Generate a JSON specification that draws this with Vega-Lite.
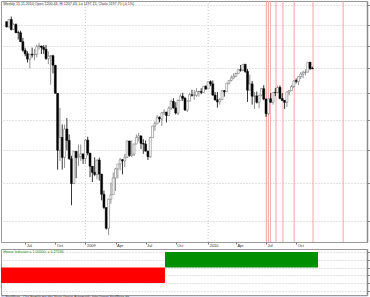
{
  "$schema": "https://vega.github.io/schema/vega-lite/v6.json",
  "padding": 0,
  "background": "white",
  "spacing": 0,
  "config": {
    "view": {"stroke": "#999", "strokeWidth": 1},
    "font": "Liberation Sans"
  },
  "datasets": {
    "candles": [
      {"d":"2008-05-05","o":1413.9,"h":1416,"l":1386,"c":1388.3},
      {"d":"2008-05-12","o":1388,"h":1426,"l":1386,"c":1425.4},
      {"d":"2008-05-19","o":1425,"h":1440,"l":1371,"c":1375.9},
      {"d":"2008-05-26","o":1376,"h":1406,"l":1374,"c":1400.4},
      {"d":"2008-06-02","o":1400,"h":1406,"l":1358,"c":1360.7},
      {"d":"2008-06-09","o":1361,"h":1370,"l":1328,"c":1360.0},
      {"d":"2008-06-16","o":1360,"h":1370,"l":1317,"c":1317.9},
      {"d":"2008-06-23","o":1318,"h":1336,"l":1272,"c":1278.4},
      {"d":"2008-06-30","o":1278,"h":1290,"l":1252,"c":1262.9},
      {"d":"2008-07-07","o":1263,"h":1274,"l":1225,"c":1239.5},
      {"d":"2008-07-14","o":1239,"h":1263,"l":1200,"c":1260.7},
      {"d":"2008-07-21","o":1261,"h":1291,"l":1246,"c":1257.8},
      {"d":"2008-07-28","o":1258,"h":1285,"l":1235,"c":1260.3},
      {"d":"2008-08-04","o":1260,"h":1304,"l":1247,"c":1296.3},
      {"d":"2008-08-11","o":1296,"h":1313,"l":1282,"c":1298.2},
      {"d":"2008-08-18","o":1298,"h":1300,"l":1262,"c":1292.2},
      {"d":"2008-08-25","o":1292,"h":1302,"l":1263,"c":1282.8},
      {"d":"2008-09-01","o":1283,"h":1303,"l":1236,"c":1242.3},
      {"d":"2008-09-08","o":1242,"h":1274,"l":1217,"c":1251.7},
      {"d":"2008-09-15","o":1252,"h":1256,"l":1133,"c":1255.1},
      {"d":"2008-09-22","o":1255,"h":1255,"l":1179,"c":1213.3},
      {"d":"2008-09-29","o":1213,"h":1214,"l":1098,"c":1099.2},
      {"d":"2008-10-06","o":1099,"h":1099,"l":840,"c":899.2},
      {"d":"2008-10-13","o":899,"h":1044,"l":866,"c":940.6},
      {"d":"2008-10-20","o":941,"h":985,"l":840,"c":876.8},
      {"d":"2008-10-27","o":877,"h":984,"l":845,"c":968.8},
      {"d":"2008-11-03","o":969,"h":1007,"l":899,"c":931.0},
      {"d":"2008-11-10","o":931,"h":951,"l":869,"c":873.3},
      {"d":"2008-11-17","o":873,"h":882,"l":741,"c":800.0},
      {"d":"2008-11-24","o":800,"h":896,"l":798,"c":896.2},
      {"d":"2008-12-01","o":896,"h":896,"l":815,"c":876.1},
      {"d":"2008-12-08","o":876,"h":918,"l":851,"c":879.7},
      {"d":"2008-12-15","o":880,"h":918,"l":866,"c":887.9},
      {"d":"2008-12-22","o":888,"h":888,"l":857,"c":872.8},
      {"d":"2008-12-29","o":873,"h":935,"l":857,"c":931.8},
      {"d":"2009-01-05","o":932,"h":943,"l":883,"c":890.4},
      {"d":"2009-01-12","o":890,"h":891,"l":818,"c":850.1},
      {"d":"2009-01-19","o":850,"h":850,"l":804,"c":832.0},
      {"d":"2009-01-26","o":832,"h":877,"l":821,"c":825.9},
      {"d":"2009-02-02","o":826,"h":870,"l":812,"c":868.6},
      {"d":"2009-02-09","o":869,"h":876,"l":808,"c":826.8},
      {"d":"2009-02-16","o":827,"h":827,"l":754,"c":770.1},
      {"d":"2009-02-23","o":770,"h":780,"l":731,"c":735.1},
      {"d":"2009-03-02","o":735,"h":735,"l":680,"c":683.4},
      {"d":"2009-03-09","o":683,"h":758,"l":667,"c":756.6},
      {"d":"2009-03-16","o":757,"h":803,"l":745,"c":768.5},
      {"d":"2009-03-23","o":769,"h":832,"l":769,"c":815.9},
      {"d":"2009-03-30","o":816,"h":845,"l":779,"c":842.5},
      {"d":"2009-04-06","o":842,"h":857,"l":814,"c":856.6},
      {"d":"2009-04-13","o":857,"h":876,"l":838,"c":869.6},
      {"d":"2009-04-20","o":870,"h":871,"l":826,"c":866.2},
      {"d":"2009-04-27","o":866,"h":888,"l":847,"c":877.5},
      {"d":"2009-05-04","o":877,"h":930,"l":875,"c":929.2},
      {"d":"2009-05-11","o":929,"h":930,"l":879,"c":882.9},
      {"d":"2009-05-18","o":883,"h":931,"l":878,"c":887.0},
      {"d":"2009-05-25","o":887,"h":920,"l":881,"c":919.1},
      {"d":"2009-06-01","o":919,"h":951,"l":919,"c":940.1},
      {"d":"2009-06-08","o":940,"h":956,"l":928,"c":946.2},
      {"d":"2009-06-15","o":946,"h":946,"l":903,"c":921.2},
      {"d":"2009-06-22","o":921,"h":935,"l":888,"c":918.9},
      {"d":"2009-06-29","o":919,"h":931,"l":896,"c":896.4},
      {"d":"2009-07-06","o":896,"h":898,"l":869,"c":879.1},
      {"d":"2009-07-13","o":879,"h":943,"l":875,"c":940.4},
      {"d":"2009-07-20","o":940,"h":980,"l":940,"c":979.3},
      {"d":"2009-07-27","o":979,"h":996,"l":963,"c":987.5},
      {"d":"2009-08-03","o":987,"h":1018,"l":987,"c":1010.5},
      {"d":"2009-08-10","o":1010,"h":1013,"l":992,"c":1004.1},
      {"d":"2009-08-17","o":1004,"h":1028,"l":979,"c":1026.1},
      {"d":"2009-08-24","o":1026,"h":1039,"l":1018,"c":1028.9},
      {"d":"2009-08-31","o":1029,"h":1029,"l":992,"c":1016.4},
      {"d":"2009-09-07","o":1016,"h":1049,"l":1016,"c":1042.7},
      {"d":"2009-09-14","o":1043,"h":1074,"l":1036,"c":1068.3},
      {"d":"2009-09-21","o":1068,"h":1080,"l":1041,"c":1044.4},
      {"d":"2009-09-28","o":1044,"h":1065,"l":1020,"c":1025.2},
      {"d":"2009-10-05","o":1025,"h":1075,"l":1018,"c":1071.5},
      {"d":"2009-10-12","o":1071,"h":1097,"l":1071,"c":1087.7},
      {"d":"2009-10-19","o":1088,"h":1101,"l":1070,"c":1079.6},
      {"d":"2009-10-26","o":1080,"h":1085,"l":1033,"c":1036.2},
      {"d":"2009-11-02","o":1036,"h":1072,"l":1029,"c":1069.3},
      {"d":"2009-11-09","o":1069,"h":1100,"l":1069,"c":1093.5},
      {"d":"2009-11-16","o":1093,"h":1113,"l":1086,"c":1091.4},
      {"d":"2009-11-23","o":1091,"h":1112,"l":1074,"c":1091.5},
      {"d":"2009-11-30","o":1091,"h":1119,"l":1085,"c":1106.0},
      {"d":"2009-12-07","o":1106,"h":1108,"l":1086,"c":1106.4},
      {"d":"2009-12-14","o":1106,"h":1119,"l":1095,"c":1102.5},
      {"d":"2009-12-21","o":1102,"h":1128,"l":1102,"c":1126.5},
      {"d":"2009-12-28","o":1126,"h":1131,"l":1115,"c":1115.1},
      {"d":"2010-01-04","o":1116,"h":1145,"l":1116,"c":1145.0},
      {"d":"2010-01-11","o":1145,"h":1150,"l":1127,"c":1136.0},
      {"d":"2010-01-18","o":1136,"h":1150,"l":1090,"c":1091.8},
      {"d":"2010-01-25","o":1092,"h":1104,"l":1071,"c":1073.9},
      {"d":"2010-02-01","o":1074,"h":1104,"l":1045,"c":1066.2},
      {"d":"2010-02-08","o":1066,"h":1080,"l":1056,"c":1075.5},
      {"d":"2010-02-15","o":1075,"h":1112,"l":1075,"c":1109.2},
      {"d":"2010-02-22","o":1109,"h":1112,"l":1086,"c":1104.5},
      {"d":"2010-03-01","o":1105,"h":1139,"l":1105,"c":1138.7},
      {"d":"2010-03-08","o":1139,"h":1150,"l":1134,"c":1150.0},
      {"d":"2010-03-15","o":1150,"h":1170,"l":1146,"c":1159.9},
      {"d":"2010-03-22","o":1160,"h":1180,"l":1157,"c":1166.6},
      {"d":"2010-03-29","o":1167,"h":1182,"l":1163,"c":1178.1},
      {"d":"2010-04-05","o":1178,"h":1195,"l":1176,"c":1194.4},
      {"d":"2010-04-12","o":1194,"h":1214,"l":1186,"c":1192.1},
      {"d":"2010-04-19","o":1192,"h":1218,"l":1188,"c":1217.3},
      {"d":"2010-04-26","o":1217,"h":1219,"l":1181,"c":1186.7},
      {"d":"2010-05-03","o":1187,"h":1197,"l":1066,"c":1110.9},
      {"d":"2010-05-10","o":1111,"h":1174,"l":1111,"c":1135.7},
      {"d":"2010-05-17","o":1136,"h":1148,"l":1056,"c":1087.7},
      {"d":"2010-05-24","o":1088,"h":1104,"l":1040,"c":1089.4},
      {"d":"2010-05-31","o":1089,"h":1106,"l":1060,"c":1064.9},
      {"d":"2010-06-07","o":1065,"h":1092,"l":1042,"c":1091.6},
      {"d":"2010-06-14","o":1092,"h":1120,"l":1087,"c":1117.5},
      {"d":"2010-06-21","o":1117,"h":1131,"l":1072,"c":1076.8},
      {"d":"2010-06-28","o":1077,"h":1078,"l":1011,"c":1022.6},
      {"d":"2010-07-05","o":1023,"h":1078,"l":1018,"c":1078.0},
      {"d":"2010-07-12","o":1078,"h":1100,"l":1063,"c":1064.9},
      {"d":"2010-07-19","o":1065,"h":1103,"l":1056,"c":1102.7},
      {"d":"2010-07-26","o":1103,"h":1120,"l":1088,"c":1101.6},
      {"d":"2010-08-02","o":1102,"h":1129,"l":1102,"c":1121.6},
      {"d":"2010-08-09","o":1122,"h":1130,"l":1076,"c":1079.3},
      {"d":"2010-08-16","o":1079,"h":1100,"l":1069,"c":1071.7},
      {"d":"2010-08-23","o":1072,"h":1073,"l":1040,"c":1064.6},
      {"d":"2010-08-30","o":1065,"h":1105,"l":1047,"c":1104.5},
      {"d":"2010-09-06","o":1104,"h":1111,"l":1091,"c":1109.6},
      {"d":"2010-09-13","o":1109,"h":1131,"l":1108,"c":1125.6},
      {"d":"2010-09-20","o":1126,"h":1149,"l":1120,"c":1148.7},
      {"d":"2010-09-27","o":1149,"h":1158,"l":1138,"c":1146.2},
      {"d":"2010-10-04","o":1146,"h":1167,"l":1131,"c":1165.2},
      {"d":"2010-10-11","o":1165,"h":1184,"l":1156,"c":1176.2},
      {"d":"2010-10-18","o":1176,"h":1190,"l":1159,"c":1183.1},
      {"d":"2010-10-25","o":1183,"h":1196,"l":1171,"c":1183.3},
      {"d":"2010-11-01","o":1184,"h":1227,"l":1183,"c":1225.9},
      {"d":"2010-11-08","o":1226,"h":1227,"l":1193,"c":1199.2},
      {"d":"2010-11-15","o":1200.44,"h":1207.43,"l":1197.15,"c":1197.75}
    ],
    "signals": [
      {"d":"2010-06-29"},{"d":"2010-07-05"},{"d":"2010-07-11"},{"d":"2010-07-28"},
      {"d":"2010-08-18"},{"d":"2010-09-21"},{"d":"2010-11-17"},{"d":"2011-02-16"}
    ],
    "years": [{"d":"2008-12-29"},{"d":"2010-01-04"}],
    "indicator": [
      {"start":"2008-04-01","end":"2009-08-28","v":-1},
      {"start":"2009-08-28","end":"2010-11-21","v":1}
    ]
  },
  "vconcat": [
    {
      "width": 366,
      "height": 241,
      "title": {
        "text": "· Weekly 15.11.2010 Open 1200.44, Hi 1207.43, Lo 1197.15, Close 1197.75 (-0.1%)",
        "anchor": "start", "frame": "group", "offset": -5,
        "fontSize": 3.6, "fontWeight": "normal", "color": "#333"
      },
      "layer": [
        {
          "data": {"name": "years"},
          "mark": {"type": "rule", "color": "#c8c8c8", "strokeDash": [1, 2], "strokeWidth": 1},
          "encoding": {
            "x": {"field": "d", "type": "temporal"}
          }
        },
        {
          "data": {"name": "signals"},
          "mark": {"type": "rule", "color": "#f5a3a3", "strokeWidth": 1},
          "encoding": {
            "x": {"field": "d", "type": "temporal"}
          }
        },
        {
          "data": {"name": "candles"},
          "mark": {"type": "rule", "strokeWidth": 0.8},
          "encoding": {
            "x": {"field": "d", "type": "temporal"},
            "y": {"field": "l", "type": "quantitative"},
            "y2": {"field": "h"},
            "color": {"condition": {"test": "datum.c >= datum.o", "value": "#777"}, "value": "#000"}
          }
        },
        {
          "data": {"name": "candles"},
          "mark": {"type": "bar", "size": 2, "strokeWidth": 0.5},
          "encoding": {
            "x": {
              "field": "d", "type": "temporal",
              "scale": {"domain": [{"year": 2008, "month": 5, "date": 3, "utc": true}, {"year": 2011, "month": 4, "date": 14, "utc": true}], "nice": false},
              "axis": {
                "title": null, "grid": false, "domain": false,
                "values": [
                  {"year": 2008, "month": 6, "date": 30, "utc": true},
                  {"year": 2008, "month": 9, "date": 29, "utc": true},
                  {"year": 2008, "month": 12, "date": 29, "utc": true},
                  {"year": 2009, "month": 3, "date": 30, "utc": true},
                  {"year": 2009, "month": 6, "date": 29, "utc": true},
                  {"year": 2009, "month": 9, "date": 28, "utc": true},
                  {"year": 2010, "month": 1, "date": 4, "utc": true},
                  {"year": 2010, "month": 3, "date": 29, "utc": true},
                  {"year": 2010, "month": 6, "date": 28, "utc": true},
                  {"year": 2010, "month": 9, "date": 27, "utc": true}
                ],
                "labelExpr": "utcmonth(datum.value + 604800000) == 0 ? utcFormat(datum.value + 604800000, '%Y') : utcFormat(datum.value + 604800000, '%b')",
                "labelFontSize": 4, "labelColor": "#333", "labelAlign": "left", "labelOffset": 1,
                "labelPadding": -1, "labelBaseline": "top", "labelFlush": false, "labelOverlap": false,
                "ticks": true, "tickSize": 2, "tickColor": "#777"
              }
            },
            "y": {
              "field": "o", "type": "quantitative",
              "scale": {"type": "log", "domain": [651, 1521], "nice": false, "zero": false},
              "axis": {
                "orient": "right", "title": null, "labels": false,
                "values": [700, 800, 900, 1000, 1100, 1200, 1300, 1400, 1500],
                "grid": true, "gridColor": "#c4c4c4", "gridDash": [1, 2], "gridWidth": 1,
                "ticks": true, "tickSize": 3, "tickColor": "#888",
                "domain": true, "domainColor": "#888", "domainWidth": 1.5
              }
            },
            "y2": {"field": "c"},
            "fill": {"condition": {"test": "datum.c >= datum.o", "value": "#ffffff"}, "value": "#000000"},
            "stroke": {"condition": {"test": "datum.c >= datum.o", "value": "#666"}, "value": "#000000"}
          }
        }
      ]
    },
    {
      "width": 366,
      "height": 46,
      "data": {"name": "indicator"},
      "title": {
        "text": "· Hoose Indicator = 1.00000,               = 0.27596",
        "anchor": "start", "frame": "group", "offset": -5,
        "fontSize": 3.6, "fontWeight": "normal", "color": "#1a8a1a"
      },
      "mark": {"type": "bar", "clip": true},
      "encoding": {
        "x": {
          "field": "start", "type": "temporal",
          "scale": {"domain": [{"year": 2008, "month": 5, "date": 3, "utc": true}, {"year": 2011, "month": 4, "date": 14, "utc": true}], "nice": false},
          "axis": {
            "labels": false, "ticks": false, "grid": false,
            "domain": true, "domainColor": "#e2e2ee", "domainWidth": 5, "offset": 3,
            "title": "© StatWare - Our Family mit der Stars Group Automatik: http://www.StatWare.de",
            "titleFontSize": 3.6, "titleFontWeight": "normal", "titleColor": "#444",
            "titleAnchor": "start", "titleAlign": "left", "titlePadding": -4
          }
        },
        "x2": {"field": "end"},
        "y": {
          "field": "v", "type": "quantitative",
          "scale": {"domain": [-1.774, 1.194], "nice": false, "zero": false},
          "axis": {
            "orient": "right", "title": null, "labels": false,
            "values": [-1.5, -1, -0.5, 0, 0.5, 1],
            "grid": true, "gridColor": "#c4c4c4", "gridDash": [1, 2],
            "ticks": true, "tickSize": 3, "tickColor": "#888",
            "domain": true, "domainColor": "#888", "domainWidth": 1.5
          }
        },
        "y2": {"datum": 0},
        "color": {"condition": {"test": "datum.v > 0", "value": "#008f00"}, "value": "#ff0000"}
      }
    }
  ]
}
